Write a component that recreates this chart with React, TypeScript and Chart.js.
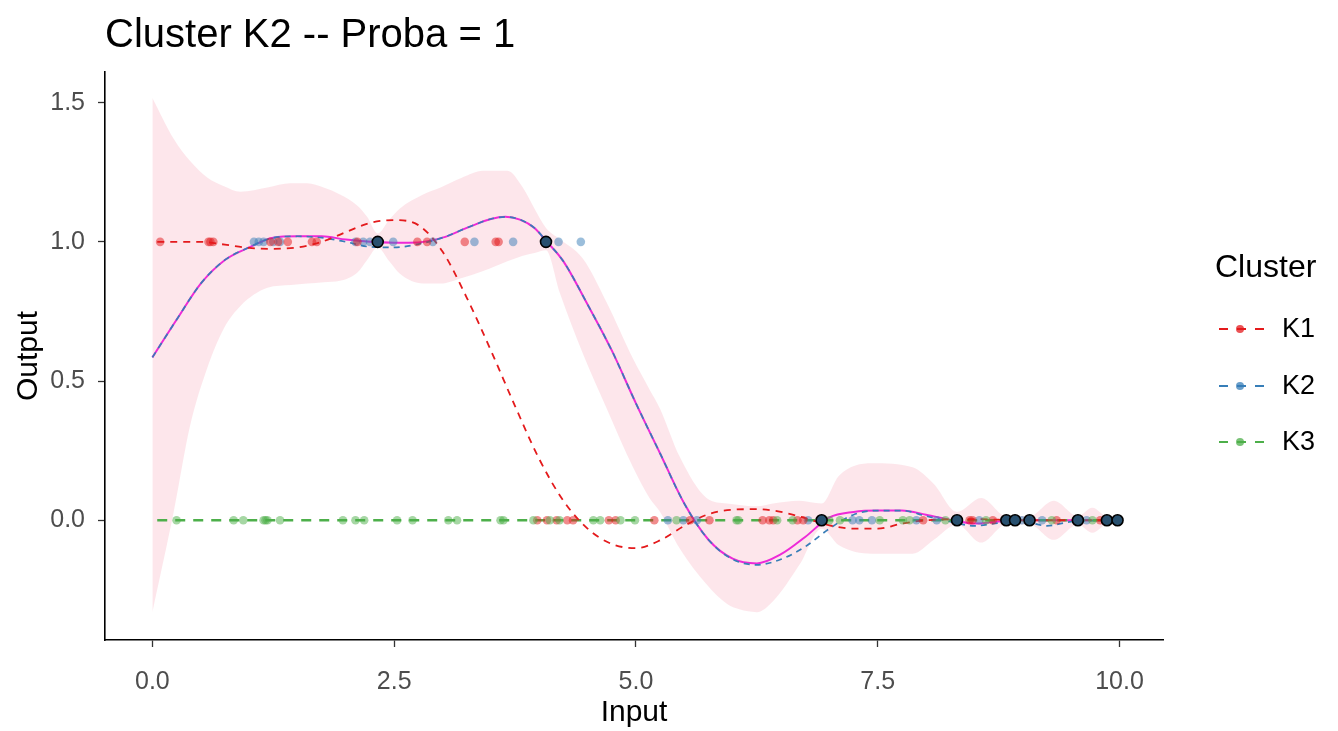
import React, { useEffect, useRef } from "react";
import { Chart, registerables } from "chart.js";

Chart.register(...registerables);

const FONT = "'Liberation Sans', Arial, Helvetica, sans-serif";

// ---- text ----
const chartTitle = "Cluster K2 -- Proba = 1";
const xAxisTitle = "Input";
const yAxisTitle = "Output";
const legendTitle = "Cluster";
const clusterNames = ["K1", "K2", "K3"];
const clusterColors = ["#E41A1C", "#377EB8", "#4DAF4A"];

// ---- ticks ----
const xTickValues = [0, 2.5, 5, 7.5, 10];
const yTickValues = [0, 0.5, 1, 1.5];

// ---- prediction band (95% interval) ----
const bandX = [0, 0.22, 0.39, 0.57, 0.74, 0.91, 1.19, 1.43, 1.6, 1.77, 1.94, 2.12, 2.22, 2.33, 2.45, 2.56, 2.8, 2.98, 3.2, 3.42, 3.67, 3.83, 3.95, 4.07, 4.21, 4.45, 4.7, 4.97, 5.14, 5.25, 5.45, 5.73, 5.94, 6.07, 6.25, 6.42, 6.69, 6.92, 7.1, 7.44, 7.86, 8.08, 8.32, 8.57, 8.83, 8.95, 9.07, 9.32, 9.57, 9.72, 9.87, 10.0];
const bandLower = [-0.33, 0.03, 0.34, 0.55, 0.69, 0.77, 0.835, 0.845, 0.85, 0.855, 0.86, 0.89, 0.935, 0.98, 0.93, 0.885, 0.85, 0.85, 0.87, 0.895, 0.93, 0.95, 0.96, 0.97, 0.82, 0.6, 0.4, 0.19, 0.08, 0.03, -0.1, -0.23, -0.3, -0.32, -0.33, -0.29, -0.16, -0.03, -0.09, -0.12, -0.12, -0.07, -0.015, -0.08, -0.015, -0.015, -0.015, -0.07, -0.015, -0.045, -0.015, -0.015];
const bandUpper = [1.517, 1.37, 1.29, 1.23, 1.2, 1.18, 1.195, 1.21, 1.21, 1.195, 1.17, 1.13, 1.09, 1.03, 1.08, 1.12, 1.17, 1.195, 1.23, 1.255, 1.255, 1.195, 1.12, 1.05, 1.01, 0.94, 0.78, 0.58, 0.47, 0.4, 0.23, 0.08, 0.06, 0.055, 0.05, 0.06, 0.07, 0.06, 0.16, 0.205, 0.19, 0.13, 0.03, 0.08, 0.015, 0.015, 0.015, 0.07, 0.015, 0.045, 0.015, 0.015];

// ---- predicted mean (magenta) ----
const predX = [0, 0.25, 0.5, 0.75, 1.0, 1.25, 1.5, 1.75, 2.0, 2.25, 2.5, 2.75, 3.0, 3.25, 3.5, 3.65, 3.8, 3.95, 4.08, 4.25, 4.5, 4.75, 5.0, 5.25, 5.5, 5.75, 6.0, 6.25, 6.5, 6.75, 7.0, 7.25, 7.5, 7.75, 8.0, 8.25, 8.5, 8.75, 9.0, 9.5, 10.0];
const predMean = [0.585, 0.72, 0.85, 0.935, 0.98, 1.015, 1.02, 1.02, 1.008, 1.0, 0.997, 0.998, 1.015, 1.05, 1.082, 1.09, 1.08, 1.05, 1.0, 0.93, 0.775, 0.61, 0.42, 0.24, 0.06, -0.07, -0.138, -0.155, -0.122, -0.06, 0.01, 0.03, 0.035, 0.035, 0.02, 0.002, -0.012, -0.004, 0.0, 0.0, 0.0];

// ---- cluster mean curves (dashed) ----
const k1X = [0.05, 0.5, 0.75, 1.0, 1.25, 1.5, 1.75, 2.0, 2.25, 2.5, 2.75, 3.0, 3.25, 3.5, 3.75, 4.0, 4.25, 4.5, 4.75, 5.0, 5.25, 5.5, 5.75, 6.0, 6.25, 6.5, 6.75, 7.0, 7.25, 7.5, 7.75, 8.0, 8.5, 9.0, 9.5, 10.0];
const k1Mean = [1.0, 1.0, 0.99, 0.978, 0.975, 0.98, 1.0, 1.035, 1.068, 1.078, 1.06, 0.965, 0.8, 0.61, 0.41, 0.22, 0.07, -0.03, -0.085, -0.1, -0.072, -0.02, 0.022, 0.038, 0.04, 0.03, 0.008, -0.018, -0.03, -0.03, -0.012, 0.0, 0.004, 0.0, 0.0, 0.0];
const k2X = [0, 0.25, 0.5, 0.75, 1.0, 1.25, 1.5, 1.75, 2.0, 2.25, 2.5, 2.75, 3.0, 3.25, 3.5, 3.65, 3.8, 3.95, 4.08, 4.25, 4.5, 4.75, 5.0, 5.25, 5.5, 5.75, 6.0, 6.25, 6.5, 6.75, 7.0, 7.25, 7.5, 7.75, 8.0, 8.25, 8.5, 8.75, 9.0, 9.25, 9.5, 10.0];
const k2Mean = [0.585, 0.72, 0.85, 0.935, 0.98, 1.015, 1.02, 1.015, 1.0, 0.982, 0.98, 0.992, 1.015, 1.05, 1.082, 1.09, 1.08, 1.05, 1.0, 0.93, 0.775, 0.61, 0.42, 0.24, 0.06, -0.07, -0.14, -0.16, -0.14, -0.095, -0.03, 0.02, 0.035, 0.035, 0.015, -0.005, -0.02, -0.01, -0.005, -0.02, -0.005, 0.0];
const k3X = [0.05, 10.0];
const k3Mean = [0.0, 0.0];

// ---- observations ----
const k1PointsAt1 = [0.08, 0.58, 0.6, 0.63, 1.22, 1.3, 1.4, 1.65, 1.7, 2.12, 2.74, 2.84, 3.23, 3.55, 3.58];
const k1PointsAt0 = [3.98, 4.08, 4.18, 4.29, 4.35, 4.72, 4.79, 5.19, 5.56, 5.76, 6.31, 6.38, 6.42, 6.67, 6.73, 7.97, 8.45, 8.48, 8.69, 9.35, 9.8];
const k2PointsAt1 = [1.05, 1.1, 1.15, 1.25, 1.32, 2.1, 2.18, 2.25, 2.49, 2.9, 3.33, 3.73, 4.2, 4.43];
const k2PointsAt0 = [5.33, 5.49, 5.63, 6.78, 7.24, 7.31, 7.44, 7.9, 8.11, 8.55, 8.99, 9.2, 9.56, 9.66];
const k3PointsAt0 = [0.25, 0.84, 0.94, 1.15, 1.17, 1.19, 1.32, 1.97, 2.1, 2.19, 2.53, 2.69, 3.06, 3.15, 3.6, 3.63, 3.94, 4.11, 4.21, 4.56, 4.63, 4.84, 4.99, 5.42, 6.04, 6.06, 6.46, 6.62, 7.0, 7.11, 7.52, 7.76, 7.83, 8.2, 8.62, 9.3, 9.72];
const obsK2At1 = [2.33, 4.07];
const obsK2At0 = [6.92, 8.32, 8.83, 8.92, 9.07, 9.57, 9.87, 9.98];

// ---- helpers ----
const zip = (xs: number[], ys: number[]) => xs.map((x, i) => ({ x, y: ys[i] }));
const at = (xs: number[], y: number) => xs.map((x) => ({ x, y }));
const rgba = (hex: string, a: number) => {
  const n = parseInt(hex.slice(1), 16);
  return `rgba(${(n >> 16) & 255}, ${(n >> 8) & 255}, ${n & 255}, ${a})`;
};

const BAND = "rgba(252, 205, 216, 0.5)";
const MAGENTA = "#EE2AD8";

const extrasPlugin = {
  id: "extras",
  afterDraw(chart: any) {
    const ctx = chart.ctx as CanvasRenderingContext2D;
    ctx.save();
    ctx.fillStyle = "#000";
    ctx.textAlign = "left";
    ctx.textBaseline = "alphabetic";
    ctx.font = `40px ${FONT}`;
    ctx.fillText(chartTitle, 105, 47);

    ctx.font = `32px ${FONT}`;
    ctx.fillText(legendTitle, 1215, 277);
    const rowY = [329, 386, 442];
    clusterNames.forEach((name, i) => {
      const y = rowY[i];
      ctx.strokeStyle = clusterColors[i];
      ctx.lineWidth = 2;
      ctx.setLineDash([9, 9]);
      ctx.beginPath();
      ctx.moveTo(1219, y);
      ctx.lineTo(1265, y);
      ctx.stroke();
      ctx.setLineDash([]);
      ctx.fillStyle = rgba(clusterColors[i], 0.75);
      ctx.beginPath();
      ctx.arc(1240, y, 4, 0, Math.PI * 2);
      ctx.fill();
      ctx.fillStyle = "#000";
      ctx.font = `27px ${FONT}`;
      ctx.textBaseline = "middle";
      ctx.fillText(name, 1282, y + 1);
      ctx.textBaseline = "alphabetic";
    });
    ctx.restore();
  },
};

export default function App() {
  const ref = useRef<HTMLCanvasElement>(null);

  useEffect(() => {
    if (!ref.current) return;
    const lineBase = {
      type: "line" as const,
      pointRadius: 0,
      fill: false,
      cubicInterpolationMode: "monotone" as const,
    };
    const pointBase = {
      type: "scatter" as const,
      pointRadius: 4.3,
      borderWidth: 0,
      order: 3,
    };
    const chart = new Chart(ref.current, {
      type: "scatter",
      data: {
        datasets: [
          { ...lineBase, label: "upper", data: zip(bandX, bandUpper), borderWidth: 0, borderColor: "transparent", backgroundColor: BAND, fill: "+1", order: 10 },
          { ...lineBase, label: "lower", data: zip(bandX, bandLower), borderWidth: 0, borderColor: "transparent", order: 10 },
          { ...lineBase, label: "pred", data: zip(predX, predMean), borderColor: MAGENTA, borderWidth: 2, order: 8 },
          { ...lineBase, label: "K2 mean", data: zip(k2X, k2Mean), borderColor: clusterColors[1], borderWidth: 1.7, borderDash: [6, 5], order: 7 },
          { ...lineBase, label: "K1 mean", data: zip(k1X, k1Mean), borderColor: clusterColors[0], borderWidth: 1.8, borderDash: [7, 6], order: 6 },
          { ...lineBase, label: "K3 mean", data: zip(k3X, k3Mean), borderColor: clusterColors[2], borderWidth: 2.4, borderDash: [10, 8], order: 6 },
          { ...pointBase, label: "K3 pts", data: at(k3PointsAt0, 0), backgroundColor: rgba(clusterColors[2], 0.5) },
          { ...pointBase, label: "K1 pts1", data: at(k1PointsAt1, 1), backgroundColor: rgba(clusterColors[0], 0.5) },
          { ...pointBase, label: "K1 pts0", data: at(k1PointsAt0, 0), backgroundColor: rgba(clusterColors[0], 0.5) },
          { ...pointBase, label: "K2 pts1", data: at(k2PointsAt1, 1), backgroundColor: rgba(clusterColors[1], 0.5) },
          { ...pointBase, label: "K2 pts0", data: at(k2PointsAt0, 0), backgroundColor: rgba(clusterColors[1], 0.5) },
          { type: "scatter", label: "obs", data: [...at(obsK2At1, 1), ...at(obsK2At0, 0)], pointRadius: 5.5, backgroundColor: "#28506F", borderColor: "#000", borderWidth: 1.6, order: 1 },
        ] as any,
      },
      options: {
        responsive: true,
        maintainAspectRatio: false,
        devicePixelRatio: 1,
        animation: false,
        events: [],
        layout: { padding: { top: 72, right: 175, left: 0, bottom: 0 } },
        plugins: { legend: { display: false }, tooltip: { enabled: false }, title: { display: false } },
        scales: {
          x: {
            type: "linear",
            min: -0.49,
            max: 10.45,
            afterFit: (s: any) => { s.height = 91; },
            afterBuildTicks: (s: any) => { s.ticks = xTickValues.map((v) => ({ value: v })); },
            border: { display: true, color: "#000", width: 1.6 },
            grid: { display: true, drawOnChartArea: false, drawTicks: true, tickLength: 7, color: "#333", tickColor: "#333", tickWidth: 1.3 },
            ticks: { color: "#4D4D4D", font: { family: FONT, size: 25 }, padding: 20, maxRotation: 0, callback: (v: any) => Number(v).toFixed(1) },
            title: { display: true, text: xAxisTitle, color: "#000", font: { family: FONT, size: 30 }, padding: { top: 0, bottom: 0 } },
          },
          y: {
            type: "linear",
            min: -0.43,
            max: 1.61,
            afterFit: (s: any) => { s.width = 105; },
            afterBuildTicks: (s: any) => { s.ticks = yTickValues.map((v) => ({ value: v })); },
            border: { display: true, color: "#000", width: 1.6 },
            grid: { display: true, drawOnChartArea: false, drawTicks: true, tickLength: 7, color: "#333", tickColor: "#333", tickWidth: 1.3 },
            ticks: { color: "#4D4D4D", font: { family: FONT, size: 25 }, padding: 13, callback: (v: any) => Number(v).toFixed(1) },
            title: { display: true, text: yAxisTitle, color: "#000", font: { family: FONT, size: 30 }, padding: { top: 11, bottom: 0 } },
          },
        },
      },
      plugins: [extrasPlugin],
    } as any);
    return () => chart.destroy();
  }, []);

  return (
    <div style={{ position: "absolute", left: 0, top: 0, width: 1338, height: 731, background: "#fff" }}>
      <canvas ref={ref} />
    </div>
  );
}
